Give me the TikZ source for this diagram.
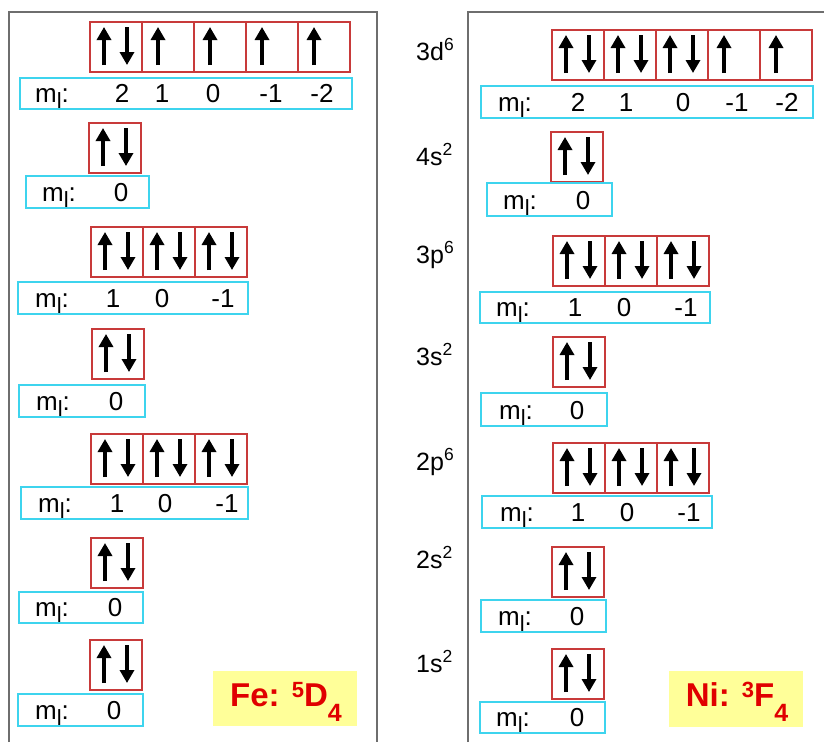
\documentclass[tikz,border=0pt]{standalone}
\usepackage{fontspec}
\setmainfont{Liberation Sans}
\usetikzlibrary{arrows.meta}
\definecolor{orbred}{HTML}{C83A3A}
\definecolor{mlcyan}{HTML}{3ED4EE}
\definecolor{framegray}{HTML}{6E6E6E}
\definecolor{termred}{HTML}{E00000}
\definecolor{termyel}{HTML}{FFFF99}
\tikzset{
 orb/.style={draw=orbred, line width=1.3pt, minimum width=52pt, minimum height=50pt, inner sep=0pt, outer sep=0pt, anchor=north west},
 mlbox/.style={draw=mlcyan, line width=2.6pt, inner sep=0pt, outer sep=0pt, anchor=north west},
 spin/.style={line width=3.6pt, -{Triangle[length=13pt,width=14pt]}},
 txt/.style={font=\fontsize{26}{26}\selectfont, inner sep=0pt, anchor=base},
 lbl/.style={font=\fontsize{25}{25}\selectfont, inner sep=0pt, anchor=base west},
 panel/.style={draw=framegray, line width=1.6pt},
 termbox/.style={fill=termyel, inner sep=0pt, anchor=north west},
 term/.style={font=\fontsize{33}{33}\selectfont\bfseries, text=termred, inner sep=0pt, anchor=base},
}
\newcommand\mlsym{m\raisebox{-6pt}{\fontsize{22}{22}\selectfont l}:}
\newcommand\orbUD[3]{\node[orb] (#1) at (#2,#3) {};
 \draw[spin] ([xshift=14pt,yshift=7pt]#1.south west) -- ([xshift=14pt,yshift=-5pt]#1.north west);
 \draw[spin] ([xshift=37pt,yshift=-5pt]#1.north west) -- ([xshift=37pt,yshift=7pt]#1.south west);}
\newcommand\orbU[3]{\node[orb] (#1) at (#2,#3) {};
 \draw[spin] ([xshift=16pt,yshift=7pt]#1.south west) -- ([xshift=16pt,yshift=-5pt]#1.north west);}
\newcommand\mlrow[7]{% name, x1, y1, x2, y2, ml x, numbers v/x
 \node[mlbox, minimum width={#4-#2}, minimum height={#5-#3}] (#1) at (#2,#3) {};
 \node[txt] (#1-ml) at (#6,#5-6.5) {\mlsym};
 \foreach \v/\x [count=\i] in {#7} \node[txt] (#1-\i) at (\x,#5-6.5) {\v};}
\begin{document}
\begin{tikzpicture}[x=1pt,y=-1pt]
\useasboundingbox (0,0) rectangle (824,742);
% panels
\draw[panel] (9,742) -- (9,12) -- (377,12) -- (377,742);
\draw[panel] (468,742) -- (468,12) -- (824,12);
% ---------- Fe (left) ----------
\orbUD{L1a}{90}{22}\orbU{L1b}{142}{22}\orbU{L1c}{194}{22}\orbU{L1d}{246}{22}\orbU{L1e}{298}{22}
\mlrow{L1m}{20}{78}{352}{109}{52}{2/122,1/162,0/213,-1/271,-2/322}
\orbUD{L2a}{89}{123}
\mlrow{L2m}{26}{176}{149}{208}{59}{0/121}
\orbUD{L3a}{91}{227}\orbUD{L3b}{143}{227}\orbUD{L3c}{195}{227}
\mlrow{L3m}{18}{282}{248}{314}{52}{1/113,0/162,-1/223}
\orbUD{L4a}{92}{329}
\mlrow{L4m}{19}{385}{145}{417}{53}{0/116}
\orbUD{L5a}{91}{434}\orbUD{L5b}{143}{434}\orbUD{L5c}{195}{434}
\mlrow{L5m}{21}{487}{248}{519}{55}{1/117,0/165,-1/227}
\orbUD{L6a}{91}{538}
\mlrow{L6m}{19}{592}{143}{623}{52}{0/115}
\orbUD{L7a}{90}{640}
\mlrow{L7m}{18}{694}{143}{726}{52}{0/114}
\node[termbox, minimum width=144pt, minimum height=55pt] (FeBox) at (213,671) {};
\node[term] (Fe) at (286,706) {Fe: \raisebox{9pt}{\fontsize{22}{22}\selectfont 5}D\raisebox{-15pt}{\fontsize{25}{25}\selectfont 4}};
% ---------- Ni (right) ----------
\node[lbl] (R1l) at (416,60) {3d\textsuperscript{6}};
\orbUD{R1a}{552}{30}\orbUD{R1b}{604}{30}\orbUD{R1c}{656}{30}\orbU{R1d}{708}{30}\orbU{R1e}{760}{30}
\mlrow{R1m}{481}{86}{813}{118}{515}{2/578,1/626,0/683,-1/737,-2/787}
\node[lbl] (R2l) at (416,165) {4s\textsuperscript{2}};
\orbUD{R2a}{551}{132}
\mlrow{R2m}{487}{183}{612}{216}{520}{0/583}
\node[lbl] (R3l) at (416,263) {3p\textsuperscript{6}};
\orbUD{R3a}{553}{236}\orbUD{R3b}{605}{236}\orbUD{R3c}{657}{236}
\mlrow{R3m}{480}{292}{710}{323}{513}{1/575,0/624,-1/686}
\node[lbl] (R4l) at (416,365) {3s\textsuperscript{2}};
\orbUD{R4a}{553}{337}
\mlrow{R4m}{481}{393}{607}{426}{516}{0/577}
\node[lbl] (R5l) at (416,470) {2p\textsuperscript{6}};
\orbUD{R5a}{553}{443}\orbUD{R5b}{605}{443}\orbUD{R5c}{657}{443}
\mlrow{R5m}{482}{496}{712}{528}{517}{1/578,0/627,-1/689}
\node[lbl] (R6l) at (416,568) {2s\textsuperscript{2}};
\orbUD{R6a}{552}{547}
\mlrow{R6m}{481}{600}{606}{632}{515}{0/577}
\node[lbl] (R7l) at (416,672) {1s\textsuperscript{2}};
\orbUD{R7a}{552}{649}
\mlrow{R7m}{480}{702}{605}{733}{513}{0/577}
\node[termbox, minimum width=134pt, minimum height=56pt] (NiBox) at (669,671) {};
\node[term] (Ni) at (737,706) {Ni: \raisebox{9pt}{\fontsize{22}{22}\selectfont 3}F\raisebox{-15pt}{\fontsize{25}{25}\selectfont 4}};
\end{tikzpicture}
\end{document}
